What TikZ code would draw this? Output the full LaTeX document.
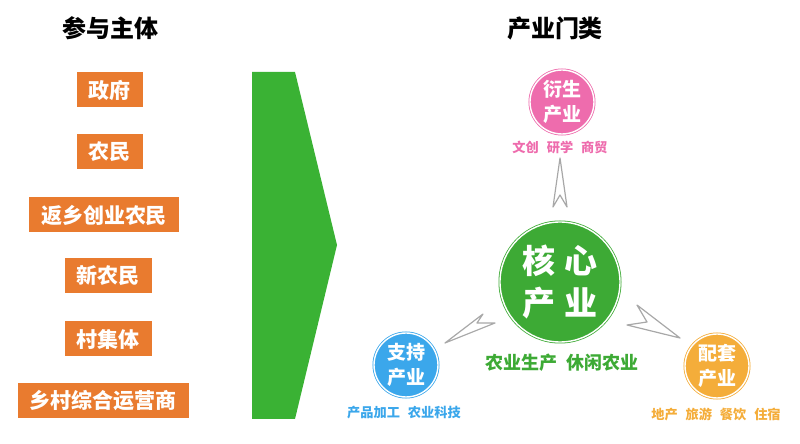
\documentclass[tikz,border=0pt]{standalone}
\usepackage{fontspec}
\setmainfont{Noto Sans CJK SC}
\usepackage{tikz}
\usetikzlibrary{positioning}

\definecolor{boxorange}{HTML}{E97B2F}
\definecolor{chevgreen}{HTML}{3AB234}
\definecolor{coregreen}{HTML}{3DAA35}
\definecolor{derivepink}{HTML}{EE6CAD}
\definecolor{supportblue}{HTML}{3BA7EB}
\definecolor{matchyellow}{HTML}{F4AD3A}
\definecolor{dartgray}{HTML}{A8A8A8}

\begin{document}
\begin{tikzpicture}[x=0.5pt,y=-0.5pt,semithick]
  \tikzstyle{title}=[font=\bfseries\fontsize{12}{14}\selectfont,text=black]
  \tikzstyle{actor}=[fill=boxorange,text=white,inner xsep=6pt,inner ysep=0pt,
                     minimum height=17.5pt,font=\bfseries\fontsize{10.5}{12}\selectfont]
  \tikzstyle{industry}=[circle,minimum size=32pt,inner sep=0pt,text=white,align=center,
                        line width=0.4pt,double=white,double distance=0.7pt,
                        font=\bfseries\fontsize{9.5}{12.5}\selectfont]
  \tikzstyle{tag}=[inner sep=0pt,font=\bfseries\fontsize{6.6}{8}\selectfont]
  \tikzstyle{dart}=[draw=dartgray,fill=white,line width=0.6pt,line join=round]

  \useasboundingbox (0,0) rectangle (800,444);

  % titles
  \node[title] (who)  at (110,28) {参与主体};
  \node[title] (what) at (555,28) {产业门类};

  % participants
  \node[actor] (gov)      at (110,90)  {政府};
  \node[actor] (farmer)   at (110,152) {农民};
  \node[actor] (returnee) at (104,215) {返乡创业农民};
  \node[actor] (newfarm)  at (108,276) {新农民};
  \node[actor] (village)  at (108,339) {村集体};
  \node[actor] (operator) at (103,401) {乡村综合运营商};

  % big arrow
  \fill[chevgreen] (252,72) -- (295,72) -- (337,245) -- (295,419) -- (252,419) -- cycle;

  % industries
  \node[industry,fill=coregreen,draw=coregreen,minimum size=60pt,
        font=\bfseries\fontsize{16.5}{21}\selectfont] (core) at (560,282)
        {核\hspace{5pt}心\\产\hspace{5pt}业};
  \node[industry,fill=derivepink,draw=derivepink]   (derive)  at (562,102) {衍生\\产业};
  \node[industry,fill=supportblue,draw=supportblue] (support) at (406,365) {支持\\产业};
  \node[industry,fill=matchyellow,draw=matchyellow] (match)   at (717,366) {配套\\产业};

  \node[tag,text=derivepink]  (deriveTag)  at (560,147) {文创\hspace{0.6em}研学\hspace{0.6em}商贸};
  \node[tag,text=coregreen,font=\bfseries\fontsize{9}{10}\selectfont]
                              (coreTag)    at (562,363) {农业生产\hspace{0.5em}休闲农业};
  \node[tag,text=supportblue] (supportTag) at (404,413) {产品加工\hspace{0.6em}农业科技};
  \node[tag,text=matchyellow] (matchTag)   at (716,414) {地产\hspace{0.6em}旅游\hspace{0.6em}餐饮\hspace{0.6em}住宿};

  % hollow darts
  \draw[dart] (560,158) -- (553,207) -- (560,195) -- (567,207) -- cycle;
  \draw[dart] (445,343) -- (483,314) -- (477,323) -- (495,323) -- cycle;
  \draw[dart] (680,338) -- (627,325) -- (647,322) -- (637,305) -- cycle;
\end{tikzpicture}
\end{document}
